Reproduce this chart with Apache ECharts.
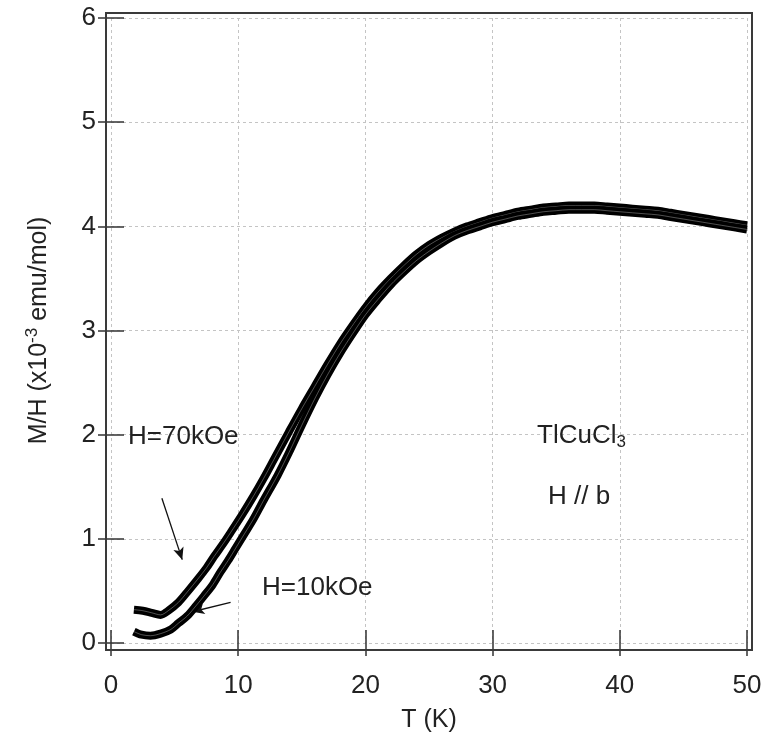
<!DOCTYPE html>
<html>
<head>
<meta charset="utf-8">
<script src="https://cdn.jsdelivr.net/npm/echarts@6/dist/echarts.min.js"></script>
<style>
html,body{margin:0;padding:0;background:#fff;}
#chart{width:778px;height:746px;}
</style>
</head>
<body>
<div id="chart"></div>
<script>
// Temperature (K) and M/H (x10^-3 emu/mol) for H = 70 kOe
var t70 = [1.8,2.5,3.2,3.9,4.5,5.3,6.0,6.8,7.5,8.1,8.8,9.4,10.3,11.2,12.0,12.8,14,15,16,17,18,19,20,21,22,23,24,25,26,27,28,29,30,31,32,33,34,35,36,37,38,39,40,41,42,43,44,45,46,47,48,49,50];
var m70 = [0.32,0.31,0.29,0.27,0.31,0.39,0.49,0.61,0.72,0.83,0.95,1.06,1.23,1.41,1.58,1.76,2.03,2.25,2.46,2.67,2.87,3.05,3.22,3.37,3.50,3.62,3.73,3.82,3.89,3.95,4.00,4.04,4.08,4.11,4.14,4.16,4.18,4.19,4.20,4.20,4.20,4.19,4.18,4.17,4.16,4.15,4.13,4.11,4.09,4.07,4.05,4.03,4.01];
// H = 10 kOe
var t10 = [1.8,2.4,3.1,3.9,4.7,5.3,6.0,6.7,7.3,8.0,8.6,9.2,9.8,10.5,11.2,12.0,13.1,14,15,16,17,18,19,20,21,22,23,24,25,26,27,28,29,30,31,32,33,34,35,36,37,38,39,40,41,42,43,44,45,46,47,48,49,50];
var m10 = [0.11,0.08,0.07,0.09,0.13,0.19,0.26,0.36,0.45,0.56,0.68,0.79,0.91,1.05,1.19,1.37,1.61,1.83,2.09,2.34,2.57,2.78,2.97,3.15,3.30,3.44,3.56,3.67,3.76,3.84,3.91,3.96,4.00,4.04,4.07,4.10,4.12,4.14,4.15,4.16,4.16,4.16,4.15,4.14,4.13,4.12,4.11,4.09,4.07,4.05,4.03,4.01,3.99,3.97];
var xTicks = [0,10,20,30,40,50];
var yTicks = [0,1,2,3,4,5,6];
// annotation arrows [T, M/H] start -> end
var arrow70 = [[4.0,1.39],[5.6,0.80]];
var arrow10 = [[9.4,0.39],[6.4,0.30]];

function pairs(t, m){ return t.map(function(v,i){ return [v, m[i]]; }); }

var FONT = 'Liberation Sans, Arial, Helvetica, sans-serif';
var chart = echarts.init(document.getElementById('chart'));
var tickStyle = {show:true, inside:true, length:13, lineStyle:{color:'#333', width:1.5}};
var splitStyle = {show:true, lineStyle:{color:'#c4c4c4', width:1, type:[3,3]}};

var option = {
  animation:false,
  backgroundColor:'#fff',
  grid:[
    {left:111, right:31, top:18, bottom:103, show:false},
    {left:106, right:26, top:13, bottom:96, show:true, borderColor:'#3a3a3a', borderWidth:2, backgroundColor:'transparent', z:10}
  ],
  xAxis:[
    {gridIndex:0, type:'value', min:xTicks[0], max:xTicks[xTicks.length-1], interval:10, offset:7,
     axisLine:{show:false}, axisTick:tickStyle, splitLine:splitStyle,
     axisLabel:{fontSize:26, color:'#222', margin:23, fontFamily:FONT},
     name:'T (K)', nameLocation:'middle', nameGap:58,
     nameTextStyle:{fontSize:25, color:'#222', fontFamily:FONT}},
    {gridIndex:0, type:'value', position:'top', min:0, max:50, interval:10, offset:5,
     axisLine:{show:false}, axisTick:tickStyle, splitLine:{show:false}, axisLabel:{show:false}},
    {gridIndex:1, type:'value', min:0, max:1, show:false}
  ],
  yAxis:[
    {gridIndex:0, type:'value', min:yTicks[0], max:yTicks[yTicks.length-1], interval:1, offset:5,
     axisLine:{show:false}, axisTick:tickStyle, splitLine:splitStyle,
     axisLabel:{fontSize:26, color:'#222', margin:10, fontFamily:FONT},
     name:'M/H (x10{sup|-3} emu/mol)', nameLocation:'middle', nameGap:52, nameRotate:90,
     nameTextStyle:{fontSize:25, color:'#222', fontFamily:FONT,
       rich:{sup:{fontSize:17, color:'#222', fontFamily:FONT, padding:[0,0,13,0]}}}},
    {gridIndex:0, type:'value', position:'right', min:0, max:6, interval:1, offset:5,
     axisLine:{show:false}, axisTick:tickStyle, splitLine:{show:false}, axisLabel:{show:false}},
    {gridIndex:1, type:'value', min:0, max:1, show:false}
  ],
  series:[
    {type:'line', name:'H=70kOe', data:pairs(t70,m70), smooth:0.3, showSymbol:false,
     lineStyle:{color:'#000', width:8}, z:3,
     markLine:{silent:true, symbol:['none','arrow'], symbolSize:[8,12], label:{show:false},
       lineStyle:{color:'#111', width:1.3, type:'solid'},
       data:[[{coord:arrow70[0]},{coord:arrow70[1]}],[{coord:arrow10[0]},{coord:arrow10[1]}]]}},
    {type:'line', name:'H=70kOe inner', data:pairs(t70,m70), smooth:0.3, showSymbol:false,
     lineStyle:{color:'#fff', width:0.7, opacity:0.45}, z:4},
    {type:'line', name:'H=10kOe', data:pairs(t10,m10), smooth:0.3, showSymbol:false,
     lineStyle:{color:'#000', width:8}, z:5},
    {type:'line', name:'H=10kOe inner', data:pairs(t10,m10), smooth:0.3, showSymbol:false,
     lineStyle:{color:'#fff', width:0.7, opacity:0.45}, z:6}
  ],
  graphic:[
    {type:'text', left:128, top:424, z:20, style:{text:'H=70kOe', fontSize:26, fill:'#222', fontFamily:FONT}},
    {type:'text', left:262, top:575, z:20, style:{text:'H=10kOe', fontSize:26, fill:'#222', fontFamily:FONT}},
    {type:'text', left:537, top:423, z:20, style:{text:'{a|TlCuCl}{s|3}', fill:'#222', fontFamily:FONT,
      rich:{a:{fontSize:26, fill:'#222', fontFamily:FONT}, s:{fontSize:17, fill:'#222', fontFamily:FONT, padding:[12,0,0,0]}}}},
    {type:'text', left:548, top:484, z:20, style:{text:'H // b', fontSize:26, fill:'#222', fontFamily:FONT}}
  ]
};
chart.setOption(option);
</script>
</body>
</html>
